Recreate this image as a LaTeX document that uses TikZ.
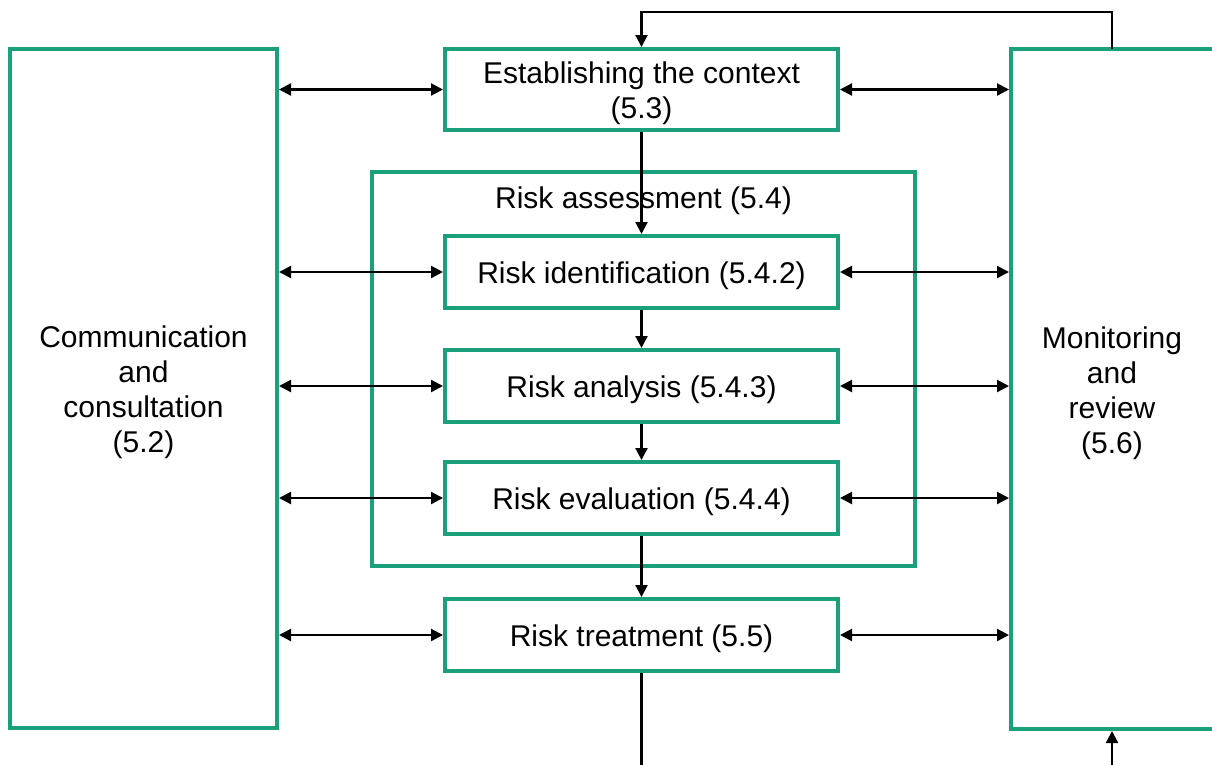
\documentclass[tikz,border=0pt]{standalone}
\usepackage{fontspec}
\setmainfont{Liberation Sans}
\usetikzlibrary{arrows.meta}
\definecolor{procgreen}{RGB}{27,160,124}
\begin{document}
\begin{tikzpicture}[x=1pt,y=-1pt,
  every node/.style={font=\fontsize{30}{35}\selectfont, align=center, inner sep=0pt},
  procbox/.style={draw=procgreen, line width=4pt, rectangle, fill=none},
  stagebox/.style={procbox, minimum width=393pt, minimum height=72pt},
  txt/.style={yshift=-4pt},
  arr/.style={line width=2.2pt, -{Triangle[length=12pt,width=12pt]}},
  biarr/.style={line width=2.2pt, {Triangle[length=12pt,width=12pt]}-{Triangle[length=12pt,width=12pt]}},
  plain/.style={line width=2.2pt}]
\useasboundingbox (0,0) rectangle (1212,764);

% side boxes
\node[procbox, minimum width=267pt, minimum height=679pt] (comm) at (143.5,388.5) {};
\node[txt] (commtxt) at (comm.center) {Communication\\and\\consultation\\(5.2)};
\node[procbox, minimum width=208pt, minimum height=680pt] (mon) at (1115,389) {};
\coordinate (monc) at (1112,389);
\node[txt] (montxt) at (monc) {Monitoring\\and\\review\\(5.6)};

% context
\node[procbox, minimum width=393pt, minimum height=81pt] (ctx) at (641.5,89.5) {};
\node[txt] (ctxtxt) at (ctx.center) {Establishing the context\\(5.3)};

% risk assessment frame
\node[procbox, minimum width=543pt, minimum height=394pt] (assess) at (643.5,369) {};
\node (assesslbl) at (643.5,201) {Risk assessment (5.4)};

% stages
\node[stagebox] (ident) at (641.5,272) {};
\node[stagebox] (anal)  at (641.5,386) {};
\node[stagebox] (eval)  at (641.5,498) {};
\node[stagebox] (treat) at (641.5,635) {};
\node[txt] (identtxt) at (ident.center) {Risk identification (5.4.2)};
\node[txt] (analtxt)  at (anal.center)  {Risk analysis (5.4.3)};
\node[txt] (evaltxt)  at (eval.center)  {Risk evaluation (5.4.4)};
\node[txt] (treattxt) at (treat.center) {Risk treatment (5.5)};

% main flow
\draw[arr] (ctx.south) -- (ident.north);
\draw[arr] (ident.south) -- (anal.north);
\draw[arr] (anal.south) -- (eval.north);
\draw[arr] (eval.south) -- (treat.north);
\coordinate (treatout) at (641.5,770);
\draw[plain] (treat.south) -- (treatout);

% feedback loops with monitoring
\coordinate (loopin) at (1112,770);
\coordinate (loopout) at (1112,49);
\draw[arr] (loopin) -- (loopin |- mon.south);
\draw[arr] (loopout) -- ++(0,-37) -| (ctx.north);

% communication and monitoring links
\foreach \n in {ctx,ident,anal,eval,treat}{
  \draw[biarr] (comm.east |- \n.west) -- (\n.west);
  \draw[biarr] (\n.east) -- (mon.west |- \n.east);
}
\end{tikzpicture}
\end{document}
